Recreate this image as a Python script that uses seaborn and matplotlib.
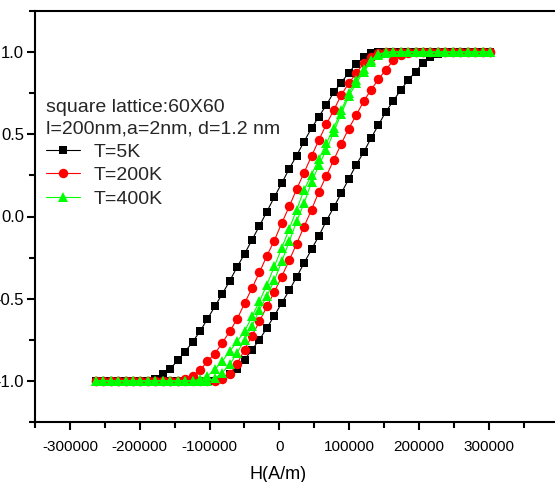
import matplotlib
matplotlib.use("Agg")
import matplotlib.pyplot as plt
import pandas as pd
import seaborn as sns
from matplotlib.ticker import FixedLocator

sns.set_theme(style="ticks")
plt.rcParams['font.family'] = ['Liberation Sans', 'DejaVu Sans']

# field grid shared by every branch (A/m)
H = [-262850, -252200, -241550, -230900, -220250, -209600, -198950, -188300, -177650, -167000,
     -156350, -145700, -135050, -124400, -113750, -103100, -92450, -81800, -71150, -60500,
     -49850, -39200, -28550, -17900, -7250, 3400, 14050, 24700, 35350, 46000,
     56650, 67300, 77950, 88600, 99250, 109900, 120550, 131200, 141850, 152500,
     163150, 173800, 184450, 195100, 205750, 216400, 227050, 237700, 248350, 259000,
     269650, 280300, 290950, 301600]

# T=5K: descending (left) and ascending (right) branches
m5_down = [-1, -1, -1, -1, -1, -1, -1, -1, -0.99, -0.957,
           -0.927, -0.875, -0.822, -0.763, -0.699, -0.624, -0.547, -0.471, -0.392, -0.307,
           -0.227, -0.142, -0.057, 0.030, 0.118, 0.203, 0.290, 0.371, 0.456, 0.537,
           0.608, 0.679, 0.756, 0.814, 0.875, 0.928, 0.968, 0.993, 1, 1,
           1, 1, 1, 1, 1, 1, 1, 1, 1, 1,
           1, 1, 1, 1]
m5_up = [-1, -1, -1, -1, -1, -1, -1, -1, -1, -1,
         -1, -1, -1, -1, -1, -1, -1, -0.99, -0.957, -0.927,
         -0.871, -0.810, -0.749, -0.678, -0.603, -0.526, -0.450, -0.368, -0.283, -0.200,
         -0.117, -0.026, 0.057, 0.142, 0.227, 0.314, 0.390, 0.476, 0.557, 0.638,
         0.703, 0.770, 0.830, 0.881, 0.936, 0.968, 0.988, 1, 1, 1,
         1, 1, 1, 1]

# T=200K
m200_down = [-1, -1, -1, -1, -1, -1, -1, -1, -1, -1,
             -1, -1, -0.99, -0.97, -0.936, -0.881, -0.834, -0.769, -0.699, -0.624,
             -0.528, -0.435, -0.340, -0.239, -0.146, -0.040, 0.061, 0.166, 0.267, 0.367,
             0.466, 0.561, 0.648, 0.739, 0.810, 0.871, 0.932, 0.972, 0.996, 1,
             1, 1, 1, 1, 1, 1, 1, 1, 1, 1,
             1, 1, 1, 1]
m200_up = [-1, -1, -1, -1, -1, -1, -1, -1, -1, -1,
           -1, -1, -1, -1, -1, -1, -1, -0.99, -0.96, -0.895,
           -0.81, -0.725, -0.638, -0.547, -0.459, -0.365, -0.267, -0.166, -0.061, 0.041,
           0.152, 0.247, 0.345, 0.442, 0.535, 0.615, 0.700, 0.770, 0.835, 0.893,
           0.950, 0.982, 0.997, 1, 1, 1, 1, 1, 1, 1,
           1, 1, 1, 1]

# T=400K
m400_down = [-1, -1, -1, -1, -1, -1, -1, -1, -1, -1,
             -1, -1, -1, -1, -0.99, -0.97, -0.93, -0.88, -0.82, -0.76,
             -0.699, -0.608, -0.516, -0.415, -0.304, -0.192, -0.075, 0.041, 0.162, 0.255,
             0.35, 0.445, 0.54, 0.645, 0.75, 0.83, 0.895, 0.952, 0.988, 1,
             1, 1, 1, 1, 1, 1, 1, 1, 1, 1,
             1, 1, 1, 1]
m400_up = [-1, -1, -1, -1, -1, -1, -1, -1, -1, -1,
           -1, -1, -1, -1, -1, -1, -0.985, -0.95, -0.90, -0.83,
           -0.749, -0.668, -0.567, -0.482, -0.389, -0.273, -0.152, -0.030, 0.081, 0.207,
           0.314, 0.405, 0.515, 0.625, 0.73, 0.81, 0.88, 0.94, 0.98, 0.997,
           1, 1, 1, 1, 1, 1, 1, 1, 1, 1,
           1, 1, 1, 1]

labels = ["T=5K", "T=200K", "T=400K"]
x_major = [-300000, -200000, -100000, 0, 100000, 200000, 300000]
y_major = [-1.0, -0.5, 0.0, 0.5, 1.0]


def loop_df(down, up):
    # go down along the left branch, then back up along the right one
    return pd.DataFrame({"H": H[::-1] + H, "M": down[::-1] + up})


fig = plt.figure(figsize=(5.55, 4.82), dpi=100)
ax = fig.add_axes([35/555, 1 - 422/482, (558.7 - 35)/555, 411/482])

series = [(m5_down, m5_up, "black", "s", 6.0),
          (m200_down, m200_up, "red", "o", 6.8),
          (m400_down, m400_up, "#00ff00", "^", 7.8)]

for (dn, up, col, mk, ms), lab in zip(series, labels):
    sns.lineplot(data=loop_df(dn, up), x="H", y="M", sort=False, estimator=None,
                 color=col, marker=mk, markersize=ms, markeredgewidth=0,
                 lw=0.8, label=lab, ax=ax)

ax.set_xlim(-350000, 400000)
ax.set_ylim(-1.25, 1.25)

ax.set_xticks(x_major, [str(v) for v in x_major])
ax.xaxis.set_minor_locator(FixedLocator(list(range(-350000, 350001, 50000))))
ax.set_yticks(y_major, [f"{v:.1f}" for v in y_major])
ax.yaxis.set_minor_locator(FixedLocator([-1.25, -0.75, -0.25, 0.25, 0.75, 1.25]))

ax.tick_params(which="major", direction="out", length=6, width=1.5, colors="black", pad=2)
ax.tick_params(which="minor", direction="out", length=4, width=1.5, colors="black")
ax.tick_params(axis="x", labelsize=11, pad=7)
ax.tick_params(axis="y", labelsize=12)

for s in ax.spines.values():
    s.set_linewidth(1.5)
    s.set_color("black")

ax.set_ylabel("")
ax.set_xlabel("H(A/m)", fontsize=13, color="black")
ax.xaxis.set_label_coords((278.3 - 35)/(558.7 - 35), -0.108)

leg = ax.legend(title="square lattice:60X60\nl=200nm,a=2nm, d=1.2 nm",
                loc="upper left", bbox_to_anchor=(46/555, 1 - 99/482),
                bbox_transform=fig.transFigure, frameon=False, borderpad=0,
                borderaxespad=0, fontsize=14, title_fontsize=14, alignment="left",
                handlelength=1.75, handletextpad=0.72, labelspacing=0.3)
leg.get_title().set_linespacing(1.33)

fig.savefig("out.png", dpi=100)
